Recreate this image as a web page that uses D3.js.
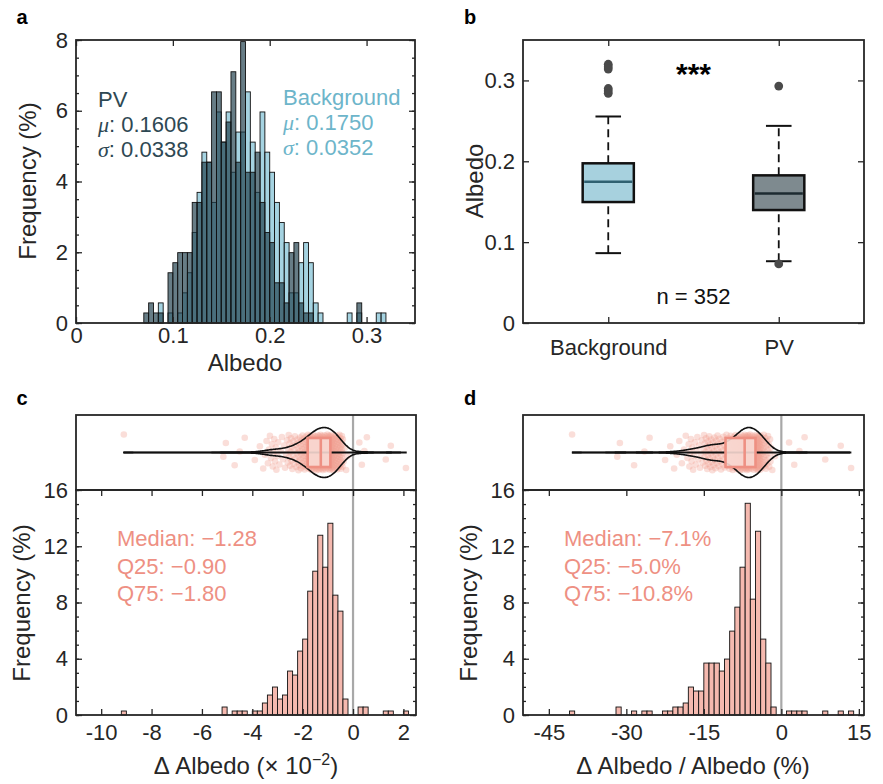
<!DOCTYPE html>
<html>
<head>
<meta charset="utf-8">
<script src="https://cdn.jsdelivr.net/npm/d3@7"></script>
<style>
  body { margin: 0; background: #fff; }
  text { font-family: "Liberation Sans", Arial, Helvetica, sans-serif; }
</style>
</head>
<body>
<script>
// ---------- data ----------
const nSamples = 352;

// panel a: albedo histograms, bins of 0.005 starting at 0.07 (counts per bin)
const albedoBinStart = 0.07, albedoBinWidth = 0.005;
const pvCounts = [1, 2, 1, 1, 0, 5, 6, 7, 7, 7, 12, 12, 16, 16, 23, 23, 18, 20, 25, 16,
                  28, 15, 15, 17, 12, 9, 8, 4, 4, 2, 7, 8, 2, 1, 1, 0, 0, 0, 0, 0,
                  0, 0, 0, 0, 2, 0, 0, 0, 0, 0];
const bgCounts = [0, 0, 0, 2, 0, 1, 0, 1, 3, 5, 9, 13, 17, 16, 12, 21, 18, 21, 15, 19,
                  19, 23, 18, 13, 21, 17, 15, 12, 10, 8, 3, 3, 6, 8, 6, 2, 1, 0, 0, 0,
                  0, 0, 1, 0, 1, 0, 0, 0, 1, 1];
const pvLabel = ["PV", "0.1606", "0.0338"];
const bgLabel = ["Background", "0.1750", "0.0352"];

// panel b: box plots  [lower whisker, q1, median, q3, upper whisker]
const boxCategories = ["Background", "PV"];
const bgBox = [0.0864, 0.1496, 0.1748, 0.1975, 0.2554];
const pvBox = [0.0764, 0.1397, 0.1603, 0.1826, 0.2438];
const bgOutliers = [0.320, 0.317, 0.314, 0.290, 0.287, 0.284];
const pvOutliers = [0.293, 0.073];

// panel c: delta albedo (x 10^-2), bins of 0.2 starting at -9.2
const dAbsBinStart = -9.2, dAbsBinWidth = 0.2;
const dAbsCounts = [1, 0, 0, 0, 0, 0, 0, 0, 0, 0, 0, 0, 0, 0, 0, 0, 0, 0, 0, 0,
                    2, 0, 1, 1, 1, 0, 1, 1, 3, 5, 7, 4, 5, 11, 10, 16, 19, 31, 36, 45,
                    37, 48, 30, 26, 4, 0, 0, 2, 2, 0, 0, 0, 1, 1, 0, 0, 1];
const dAbsBox = [-9.1, -1.80, -1.28, -0.90, 1.9];
const dAbsText = ["Median: \u22121.28", "Q25: \u22120.90", "Q75: \u22121.80"];

// panel d: relative delta albedo (%), bins of 1 starting at -41
const dRelBinStart = -41, dRelBinWidth = 1;
const dRelCounts = [1, 0, 0, 0, 0, 0, 0, 0, 0, 2, 0, 0, 1, 0, 1, 1, 0, 0, 1, 1,
                    2, 2, 3, 7, 6, 6, 13, 13, 13, 11, 14, 21, 27, 37, 53, 29, 46, 19, 13, 2,
                    0, 0, 1, 1, 1, 1, 0, 0, 0, 1, 0, 0, 1, 0, 1];
const dRelBox = [-40.5, -10.8, -7.1, -5.0, 13.3];
const dRelText = ["Median: \u22127.1%", "Q25: \u22125.0%", "Q75: \u221210.8%"];

// ---------- setup ----------
const W = 883, H = 784;
const axisColor = "#262626";
const tickFont = 22, labelFont = 24, noteFont = 22;
const salmon = "#EE9083";

const svg = d3.select("body").append("svg")
    .attr("width", W).attr("height", H);

function styleAxis(sel) {
    sel.select(".domain").remove();
    sel.selectAll(".tick line").attr("stroke", axisColor).attr("stroke-width", 1.3);
    sel.selectAll(".tick text").attr("fill", axisColor)
        .style("font-size", tickFont + "px");
}

function frame(x0, y0, x1, y1) {
    svg.append("rect")
        .attr("x", x0).attr("y", y0).attr("width", x1 - x0).attr("height", y1 - y0)
        .attr("fill", "none").attr("stroke", axisColor).attr("stroke-width", 1.8);
}

// mirrored inward ticks on all four sides
function boxAxes(xs, ys, xTicks, yTicks, yMinor, xFmt, yFmt, xPad) {
    const [x0, x1] = xs.range(), [y0, y1] = ys.range(); // y0 bottom
    svg.append("g").attr("transform", `translate(0,${y0})`)
        .call(d3.axisBottom(xs).tickValues(xTicks).tickSizeInner(-6).tickSizeOuter(0)
            .tickPadding(xPad).tickFormat(xFmt))
        .call(styleAxis);
    svg.append("g").attr("transform", `translate(0,${y1})`)
        .call(d3.axisTop(xs).tickValues(xTicks).tickSizeInner(-6).tickSizeOuter(0).tickFormat(""))
        .call(styleAxis);
    svg.append("g").attr("transform", `translate(${x0},0)`)
        .call(d3.axisLeft(ys).tickValues(yTicks).tickSizeInner(-6).tickSizeOuter(0)
            .tickPadding(8).tickFormat(yFmt))
        .call(styleAxis);
    svg.append("g").attr("transform", `translate(${x1},0)`)
        .call(d3.axisRight(ys).tickValues(yTicks).tickSizeInner(-6).tickSizeOuter(0).tickFormat(""))
        .call(styleAxis);
    if (yMinor) {
        svg.append("g").attr("transform", `translate(${x0},0)`)
            .call(d3.axisLeft(ys).tickValues(yMinor).tickSizeInner(-3).tickSizeOuter(0).tickFormat(""))
            .call(styleAxis);
        svg.append("g").attr("transform", `translate(${x1},0)`)
            .call(d3.axisRight(ys).tickValues(yMinor).tickSizeInner(-3).tickSizeOuter(0).tickFormat(""))
            .call(styleAxis);
    }
    frame(x0, y1, x1, y0);
}

function binData(counts, start, width) {
    return counts.map((c, i) => ({ lo: start + i * width, hi: start + (i + 1) * width, p: c / nSamples * 100 }))
        .filter(d => d.p > 0);
}

function histBars(counts, start, width, xs, ys, fill, alpha) {
    svg.append("g").selectAll("rect")
        .data(binData(counts, start, width))
        .enter().append("rect")
        .attr("x", d => xs(d.lo))
        .attr("width", d => xs(d.hi) - xs(d.lo))
        .attr("y", d => ys(d.p))
        .attr("height", d => ys(0) - ys(d.p))
        .attr("fill", fill).attr("fill-opacity", alpha)
        .attr("stroke", "#111").attr("stroke-width", 0.9);
}

function yLabel(x, y, txt) {
    svg.append("text").attr("transform", `translate(${x},${y}) rotate(-90)`)
        .attr("text-anchor", "middle").attr("dominant-baseline", "middle")
        .style("font-size", labelFont + "px").attr("fill", axisColor).text(txt);
}

function panelLetter(x, y, t) {
    svg.append("text").attr("x", x).attr("y", y).attr("text-anchor", "middle")
        .style("font-size", "20px").style("font-weight", "bold").text(t);
}

// ---------- panel a ----------
const ax = d3.scaleLinear().domain([0, 0.35]).range([76, 415]);
const ay = d3.scaleLinear().domain([0, 8]).range([323, 40]);

histBars(bgCounts, albedoBinStart, albedoBinWidth, ax, ay, "#8CC6D8", 0.78);
histBars(pvCounts, albedoBinStart, albedoBinWidth, ax, ay, "#1F3F4C", 0.68);

boxAxes(ax, ay, [0, 0.1, 0.2, 0.3], [0, 2, 4, 6, 8], d3.range(0, 8.01, 0.5),
    d => d === 0 ? "0" : d3.format(".1f")(d), d => d, 4);

svg.append("text").attr("x", 245).attr("y", 371).attr("text-anchor", "middle")
    .style("font-size", labelFont + "px").attr("fill", axisColor).text("Albedo");
yLabel(30, 181, "Frequency (%)");

function statBlock(x, y, lines, color) {
    const t = svg.append("g").attr("fill", color).style("font-size", noteFont + "px");
    t.append("text").attr("x", x).attr("y", y).text(lines[0]);
    const m = t.append("text").attr("x", x).attr("y", y + 25);
    m.append("tspan").style("font-style", "italic").style("font-family", "Liberation Serif, serif").text("\u03bc");
    m.append("tspan").text(": " + lines[1]);
    const s = t.append("text").attr("x", x).attr("y", y + 50);
    s.append("tspan").style("font-style", "italic").style("font-family", "Liberation Serif, serif").text("\u03c3");
    s.append("tspan").text(": " + lines[2]);
}
statBlock(98, 107, pvLabel, "#2E4853");
statBlock(283, 105, bgLabel, "#6DB5CA");

// ---------- panel b ----------
const bx = d3.scaleLinear().domain([0.5, 2.5]).range([523, 864]);
const by = d3.scaleLinear().domain([0, 0.35]).range([323, 40]);

const boxes = [
    { pos: 1, s: bgBox, out: bgOutliers, fill: "#A7D1DE", med: "#2F6070" },
    { pos: 2, s: pvBox, out: pvOutliers, fill: "#7E8A8F", med: "#1C2A30" }
];
const halfBox = 0.15, halfCap = 0.075;
boxes.forEach(b => {
    const g = svg.append("g");
    const cx = bx(b.pos);
    g.append("line").attr("x1", cx).attr("x2", cx).attr("y1", by(b.s[3])).attr("y2", by(b.s[4]))
        .attr("stroke", "#111").attr("stroke-width", 1.8).attr("stroke-dasharray", "8,5");
    g.append("line").attr("x1", cx).attr("x2", cx).attr("y1", by(b.s[0])).attr("y2", by(b.s[1]))
        .attr("stroke", "#111").attr("stroke-width", 1.8).attr("stroke-dasharray", "8,5");
    [b.s[0], b.s[4]].forEach(v => {
        g.append("line").attr("x1", bx(b.pos - halfCap)).attr("x2", bx(b.pos + halfCap))
            .attr("y1", by(v)).attr("y2", by(v)).attr("stroke", "#111").attr("stroke-width", 2);
    });
    g.append("rect").attr("x", bx(b.pos - halfBox)).attr("width", bx(b.pos + halfBox) - bx(b.pos - halfBox))
        .attr("y", by(b.s[3])).attr("height", by(b.s[1]) - by(b.s[3]))
        .attr("fill", b.fill).attr("stroke", "#111").attr("stroke-width", 2.5);
    g.append("line").attr("x1", bx(b.pos - halfBox) + 1.5).attr("x2", bx(b.pos + halfBox) - 1.5)
        .attr("y1", by(b.s[2])).attr("y2", by(b.s[2])).attr("stroke", b.med).attr("stroke-width", 2.5);
    g.selectAll("circle").data(b.out).enter().append("circle")
        .attr("cx", cx).attr("cy", d => by(d)).attr("r", 4.4).attr("fill", "#4A4A4A");
});

boxAxes(bx, by, [1, 2], [0, 0.1, 0.2, 0.3], null,
    d => boxCategories[d - 1], d => d === 0 ? "0" : d3.format(".1f")(d), 16);

svg.append("text").attr("x", bx(1.5)).attr("y", 84).attr("text-anchor", "middle")
    .style("font-size", "30px").style("font-weight", "bold").text("***");
svg.append("text").attr("x", bx(1.5)).attr("y", 304).attr("text-anchor", "middle")
    .style("font-size", "22px").attr("fill", "#111").text("n = 352");
yLabel(477, 181, "Albedo");

// ---------- panels c and d ----------
function kde(values, bw, grid) {
    const k = u => Math.exp(-0.5 * u * u) / Math.sqrt(2 * Math.PI);
    return grid.map(x => [x, d3.mean(values, v => k((x - v) / bw)) / bw]);
}

function deltaPanel(o) {
    const xs = d3.scaleLinear().domain(o.domain).range(o.range);
    const ys = d3.scaleLinear().domain([0, 16]).range([715, 490]);
    const sTop = 415, sBot = 490, cy = (sTop + sBot) / 2;

    // values reconstructed from histogram counts (spread within each bin)
    const vals = [];
    o.counts.forEach((c, i) => {
        for (let j = 0; j < c; j++) vals.push(o.start + o.width * (i + (j + 0.5) / c));
    });

    // zero reference line
    svg.append("line").attr("x1", xs(0)).attr("x2", xs(0)).attr("y1", sTop).attr("y2", 715)
        .attr("stroke", "#A8A8A8").attr("stroke-width", 2.2);

    histBars(o.counts, o.start, o.width, xs, ys, "#F5B9AF", 1);

    boxAxes(xs, ys, o.xTicks, [0, 4, 8, 12, 16], d3.range(0, 16.01, 1), d => d, d => d, 9);

    // strip: jittered points, whisker line, violin, box
    const strip = svg.append("g");
    strip.selectAll("circle").data(vals).enter().append("circle")
        .attr("cx", d => xs(d))
        .attr("cy", (d, i) => cy + (((i * 0.6180339887) % 1) - 0.5) * 36)
        .attr("r", 3.3).attr("fill", "#F2A093").attr("fill-opacity", 0.35);

    strip.append("line").attr("x1", xs(o.box[0])).attr("x2", xs(o.box[4]))
        .attr("y1", cy).attr("y2", cy).attr("stroke", "#111").attr("stroke-width", 2.2);

    const grid = d3.ticks(d3.min(vals), d3.max(vals), 300);
    const dens = kde(vals, o.bw, grid);
    const wScale = d3.scaleLinear().domain([0, d3.max(dens, d => d[1])]).range([0, 25]);
    strip.append("path").datum(dens)
        .attr("d", d3.area().curve(d3.curveBasis)
            .x(d => xs(d[0])).y0(d => cy - wScale(d[1])).y1(d => cy + wScale(d[1])))
        .attr("fill", "none").attr("stroke", "#111").attr("stroke-width", 1.6);

    strip.append("rect").attr("x", xs(o.box[1])).attr("width", xs(o.box[3]) - xs(o.box[1]))
        .attr("y", cy - 14.5).attr("height", 29)
        .attr("fill", "#F8D9D3").attr("fill-opacity", 0.9)
        .attr("stroke", salmon).attr("stroke-width", 2.6);
    strip.append("line").attr("x1", xs(o.box[2])).attr("x2", xs(o.box[2]))
        .attr("y1", cy - 14.5).attr("y2", cy + 14.5).attr("stroke", salmon).attr("stroke-width", 2.6);

    frame(o.range[0], sTop, o.range[1], sBot);

    const t = svg.append("g").attr("fill", salmon).style("font-size", noteFont + "px");
    o.text.forEach((s, i) => t.append("text").attr("x", o.range[0] + 41).attr("y", 546 + i * 27.5).text(s));

    yLabel(o.range[0] - 52, 603, "Frequency (%)");
    return xs;
}

deltaPanel({
    domain: [-11, 2.5], range: [76, 416], counts: dAbsCounts, start: dAbsBinStart, width: dAbsBinWidth,
    box: dAbsBox, bw: 0.3, xTicks: [-10, -8, -6, -4, -2, 0, 2], text: dAbsText
});
deltaPanel({
    domain: [-50, 16], range: [523, 864], counts: dRelCounts, start: dRelBinStart, width: dRelBinWidth,
    box: dRelBox, bw: 1.4, xTicks: [-45, -30, -15, 0, 15], text: dRelText
});

const xlc = svg.append("text").attr("x", 246).attr("y", 774).attr("text-anchor", "middle")
    .style("font-size", labelFont + "px").attr("fill", axisColor);
xlc.append("tspan").text("\u0394 Albedo (\u00d7 10");
xlc.append("tspan").attr("dy", -9).style("font-size", "16px").text("\u22122");
xlc.append("tspan").attr("dy", 9).text(")");

svg.append("text").attr("x", 693).attr("y", 774).attr("text-anchor", "middle")
    .style("font-size", labelFont + "px").attr("fill", axisColor)
    .text("\u0394 Albedo / Albedo (%)");

panelLetter(22, 24, "a");
panelLetter(470, 24, "b");
panelLetter(22, 405, "c");
panelLetter(470, 405, "d");
</script>
</body>
</html>
